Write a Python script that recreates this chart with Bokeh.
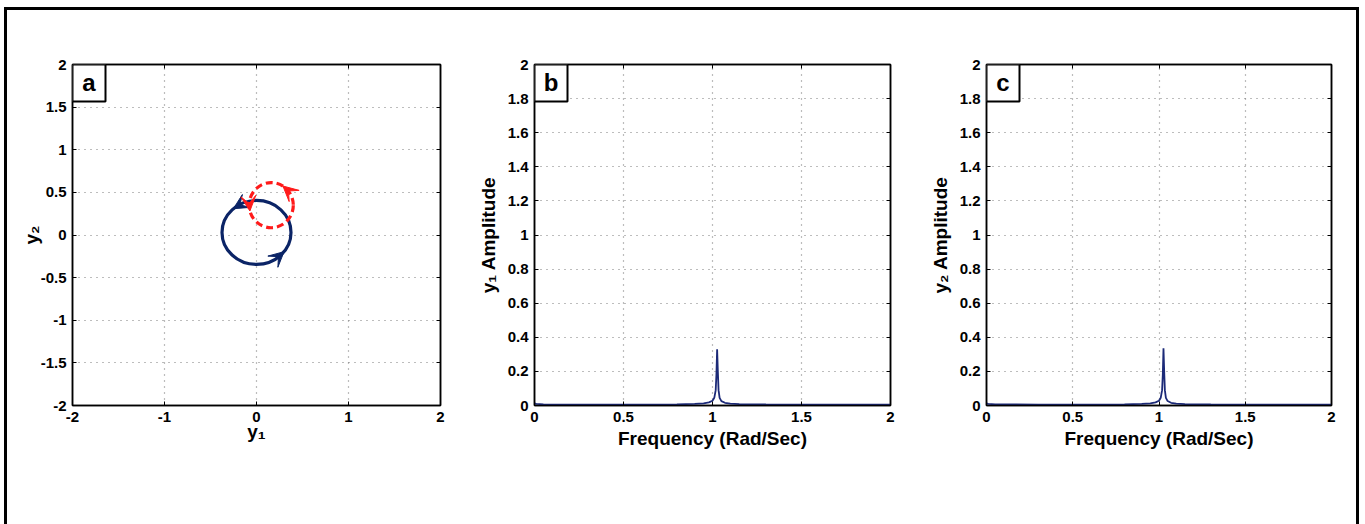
import math
from bokeh.plotting import figure
from bokeh.layouts import row
from bokeh.models import (FixedTicker, LinearAxis, Label, Arrow, VeeHead, Range1d,
                          CustomJSTickFormatter, Grid, BoxAnnotation)
from bokeh.embed import file_html
from bokeh.resources import INLINE

# ---------------- data ----------------
# panel a: phase portrait
a_xticks = [-2, -1, 0, 1, 2]
a_xlabels = ["-2", "-1", "0", "1", "2"]
a_yticks = [-2, -1.5, -1, -0.5, 0, 0.5, 1, 1.5, 2]
a_ylabels = ["-2", "-1.5", "-1", "-0.5", "0", "0.5", "1", "1.5", "2"]

orbit_names = ["solid", "dashed"]
orbit_cx = [0.0, 0.16]
orbit_cy = [0.03, 0.35]
orbit_w = [0.75, 0.48]
orbit_h = [0.75, 0.53]
orbit_colors = ["#0b2466", "#ff1a1a"]
orbit_arrow_deg = [[132, -37], [58, 195]]

# panels b, c: amplitude spectra
f_ticks = [0, 0.5, 1, 1.5, 2]
f_labels = ["0", "0.5", "1", "1.5", "2"]
amp_ticks = [0, 0.2, 0.4, 0.6, 0.8, 1.0, 1.2, 1.4, 1.6, 1.8, 2.0]
amp_labels = ["0", "0.2", "0.4", "0.6", "0.8", "1", "1.2", "1.4", "1.6", "1.8", "2"]

freq_y1 = [0.0, 0.01, 0.05, 0.3, 0.6, 0.8, 0.9, 0.95, 0.98, 1.0, 1.01, 1.018, 1.022,
           1.026, 1.03, 1.034, 1.04, 1.05, 1.07, 1.1, 1.15, 1.3, 1.6, 2.0]
amp_y1 = [0.012, 0.01, 0.007, 0.005, 0.005, 0.007, 0.009, 0.012, 0.018, 0.028, 0.045,
          0.09, 0.18, 0.33, 0.2, 0.09, 0.045, 0.026, 0.016, 0.011, 0.008, 0.006, 0.005, 0.005]
freq_y2 = [0.0, 0.01, 0.05, 0.3, 0.6, 0.8, 0.9, 0.95, 0.98, 1.0, 1.01, 1.018, 1.022,
           1.026, 1.03, 1.034, 1.04, 1.05, 1.07, 1.1, 1.15, 1.3, 1.6, 2.0]
amp_y2 = [0.012, 0.01, 0.007, 0.005, 0.005, 0.007, 0.009, 0.012, 0.018, 0.028, 0.045,
          0.09, 0.18, 0.335, 0.2, 0.09, 0.045, 0.026, 0.016, 0.011, 0.008, 0.006, 0.005, 0.005]

FONT = "Liberation Sans"
LINE = "#1c2a78"
FRAME_H = 341
TAG_W = 33   # px
TAG_H = 37   # px


def style(p, fw, xt, xl, yt, yl, xlabel, ylabel, tag, xstand=3, ystand=6):
    p.outline_line_color = "black"
    p.outline_line_width = 1.5
    p.background_fill_color = "white"
    p.border_fill_color = "white"
    p.add_layout(Grid(dimension=0, ticker=FixedTicker(ticks=xt), grid_line_color="#7a7a7a",
                      grid_line_dash="1 5", grid_line_width=1.2))
    p.add_layout(Grid(dimension=1, ticker=FixedTicker(ticks=yt), grid_line_color="#7a7a7a",
                      grid_line_dash="1 5", grid_line_width=1.2))
    xax = LinearAxis(ticker=FixedTicker(ticks=xt), axis_label=xlabel,
                     major_label_overrides={t: s for t, s in zip(xt, xl)})
    yax = LinearAxis(ticker=FixedTicker(ticks=yt), axis_label=ylabel,
                     major_label_overrides={t: s for t, s in zip(yt, yl)})
    for ax in (xax, yax):
        ax.axis_line_color = "black"
        ax.axis_line_width = 1.5
        ax.major_tick_in = 4
        ax.major_tick_out = 0
        ax.minor_tick_line_color = None
        ax.major_label_text_font = FONT
        ax.major_label_text_font_style = "bold"
        ax.major_label_text_font_size = "15px"
        ax.major_label_text_color = "black"
        ax.axis_label_text_font = FONT
        ax.axis_label_text_font_style = "bold"
        ax.axis_label_text_font_size = "19px"
        ax.axis_label_text_color = "black"
        ax.major_label_standoff = 6
    xax.axis_label_standoff = xstand
    yax.axis_label_standoff = ystand
    p.add_layout(xax, "below")
    p.add_layout(yax, "left")
    for loc, ticks in (("above", xt), ("right", yt)):
        ax = LinearAxis(ticker=FixedTicker(ticks=ticks),
                        formatter=CustomJSTickFormatter(code="return ''"))
        ax.axis_line_color = "black"
        ax.axis_line_width = 1.5
        ax.major_tick_in = 4
        ax.major_tick_out = 0
        ax.minor_tick_line_color = None
        ax.major_label_standoff = 0
        ax.major_label_text_font_size = "1px"
        p.add_layout(ax, loc)
    # panel tag box in the top-left corner of the frame
    x0, x1 = p.x_range.start, p.x_range.end
    y0, y1 = p.y_range.start, p.y_range.end
    bw = (x1 - x0) * TAG_W / fw
    bh = (y1 - y0) * TAG_H / FRAME_H
    p.add_layout(BoxAnnotation(left=x0, right=x0 + bw, top=y1, bottom=y1 - bh,
                               fill_color="white", fill_alpha=1, line_color="black",
                               line_alpha=1, line_width=2, level="annotation"))
    p.add_layout(Label(x=x0 + bw / 2, y=y1 - bh / 2, text=tag, text_align="center",
                       text_baseline="middle", text_font=FONT, text_font_style="bold",
                       text_font_size="24px", text_color="black", y_offset=1))


def make_fig(fw, bl, br, xr, yr):
    return figure(frame_width=fw, frame_height=FRAME_H, min_border_left=bl, min_border_right=br,
                  min_border_top=54, min_border_bottom=119, x_axis_type=None,
                  y_axis_type=None, x_range=xr, y_range=yr,
                  toolbar_location=None, output_backend="svg")


# ---------------- panel a ----------------
pa = make_fig(368, 65, 30, Range1d(-2, 2), Range1d(-2, 2))
style(pa, 368, a_xticks, a_xlabels, a_yticks, a_ylabels, "y\u2081", "y\u2082", "a",
      xstand=-4, ystand=-4)
for i in range(len(orbit_names)):
    dash = "solid" if orbit_names[i] == "solid" else "7 4"
    pa.ellipse(x=[orbit_cx[i]], y=[orbit_cy[i]], width=[orbit_w[i]], height=[orbit_h[i]],
               fill_color=None, line_color=orbit_colors[i], line_width=3.2, line_dash=dash)
    for d in orbit_arrow_deg[i]:
        t1 = math.radians(d)
        t0 = math.radians(d - 18)
        xs = orbit_cx[i] + orbit_w[i] / 2 * math.cos(t0)
        ys = orbit_cy[i] + orbit_h[i] / 2 * math.sin(t0)
        xe = orbit_cx[i] + orbit_w[i] / 2 * math.cos(t1)
        ye = orbit_cy[i] + orbit_h[i] / 2 * math.sin(t1)
        pa.add_layout(Arrow(end=VeeHead(size=15, fill_color=orbit_colors[i],
                                        line_color=orbit_colors[i], line_width=1),
                            x_start=xs, y_start=ys, x_end=xe, y_end=ye,
                            line_color=orbit_colors[i], line_width=0.1, line_alpha=0))

# ---------------- panel b ----------------
pb = make_fig(356, 64, 35, Range1d(0, 2), Range1d(0, 2))
style(pb, 356, f_ticks, f_labels, amp_ticks, amp_labels, "Frequency (Rad/Sec)",
      "y\u2081 Amplitude", "b")
pb.line(freq_y1, amp_y1, line_color=LINE, line_width=1.8)

# ---------------- panel c ----------------
pc = make_fig(345, 61, 25, Range1d(0, 2), Range1d(0, 2))
style(pc, 345, f_ticks, f_labels, amp_ticks, amp_labels, "Frequency (Rad/Sec)",
      "y\u2082 Amplitude", "c")
pc.line(freq_y2, amp_y2, line_color=LINE, line_width=1.8)

layout = row(pa, pb, pc, margin=(10, 0, 0, 7),
             styles={"outline": "3px solid black"})

open("out.html", "w").write(file_html(layout, INLINE))
